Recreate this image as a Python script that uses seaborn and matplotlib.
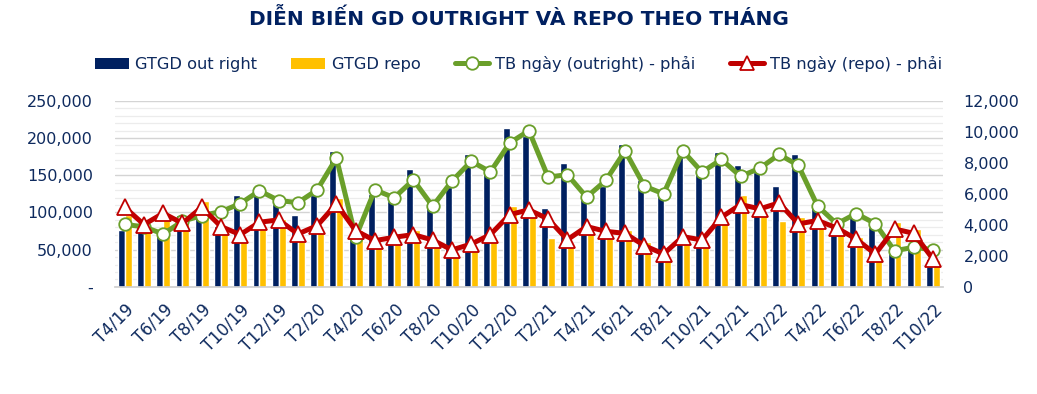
import numpy as np
import pandas as pd
import matplotlib
matplotlib.use("Agg")
import matplotlib.pyplot as plt
import seaborn as sns
from matplotlib.patches import Patch
from matplotlib.lines import Line2D
from matplotlib.ticker import FuncFormatter, MultipleLocator

# du lieu theo thang (T4/19 -> T10/22)
months = ["T4/19", "T5/19", "T6/19", "T7/19", "T8/19", "T9/19", "T10/19", "T11/19", "T12/19",
          "T1/20", "T2/20", "T3/20", "T4/20", "T5/20", "T6/20", "T7/20", "T8/20", "T9/20",
          "T10/20", "T11/20", "T12/20", "T1/21", "T2/21", "T3/21", "T4/21", "T5/21", "T6/21",
          "T7/21", "T8/21", "T9/21", "T10/21", "T11/21", "T12/21", "T1/22", "T2/22", "T3/22",
          "T4/22", "T5/22", "T6/22", "T7/22", "T8/22", "T9/22", "T10/22"]

gtgd_outright = [76000, 78000, 73000, 97000, 94000, 82000, 124000, 123000, 112000,
                 97000, 123000, 183000, 70000, 125000, 116000, 159000, 109000, 134000,
                 178000, 163000, 213000, 203000, 106000, 166000, 118000, 136000, 192000,
                 143000, 124000, 174000, 154000, 181000, 164000, 154000, 136000, 179000,
                 107000, 82000, 96000, 80000, 53000, 51000, 38000]

gtgd_repo = [96000, 82000, 90000, 91000, 115000, 73000, 66000, 78000, 91000,
             66000, 78000, 120000, 76000, 55000, 57000, 76000, 55000, 43000,
             50000, 62000, 108000, 94000, 66000, 59000, 79000, 67000, 77000,
             60000, 38000, 60000, 60000, 92000, 123000, 95000, 88000, 94000,
             83000, 72000, 67000, 41000, 87000, 78000, 36000]

tb_outright = [4030, 3870, 3410, 4230, 4600, 4850, 5370, 6200, 5570,
               5430, 6260, 8310, 3200, 6260, 5750, 6900, 5200, 6820,
               8100, 7420, 9280, 10080, 7080, 7240, 5790, 6870, 8770,
               6500, 6000, 8770, 7400, 8230, 7130, 7650, 8540, 7840,
               5220, 4060, 4730, 4080, 2330, 2550, 2390]

tb_repo = [5130, 4020, 4750, 4100, 5130, 3890, 3370, 4170, 4320,
           3410, 3950, 5350, 3630, 2980, 3200, 3370, 3020, 2380,
           2760, 3370, 4660, 4970, 4380, 3040, 3890, 3580, 3450,
           2660, 2120, 3240, 3020, 4490, 5310, 5030, 5420, 4060,
           4280, 3800, 3090, 2120, 3740, 3450, 1790]

NAVY = "#002060"
YELLOW = "#FFC000"
GREEN = "#6A9F2A"
RED = "#C00000"
TXT = "#0E2A5E"

sns.set_theme(style="white")
plt.rcParams["font.family"] = ["DejaVu Sans"]

df = pd.DataFrame({"month": months, "GTGD out right": gtgd_outright, "GTGD repo": gtgd_repo})
df_long = df.melt(id_vars="month", var_name="series", value_name="value")

fig = plt.figure(figsize=(10.37, 3.94), dpi=100)
ax = fig.add_axes([0.111, 0.272, 0.798, 0.472])

sns.barplot(data=df_long, x="month", y="value", hue="series", order=months,
            palette=[NAVY, YELLOW], width=0.72, saturation=1, legend=False, ax=ax)
ax.set_ylim(0, 250000)
ax.set_xlim(-0.5, len(months) - 0.5)

# luoi ngang
ax.yaxis.set_major_locator(MultipleLocator(50000))
ax.yaxis.set_minor_locator(MultipleLocator(10000))
ax.grid(axis="y", which="major", color="#d4d4d4", lw=1.0)
ax.grid(axis="y", which="minor", color="#ececec", lw=0.9)
ax.set_axisbelow(True)
ax.yaxis.set_major_formatter(FuncFormatter(lambda v, p: "-" if v == 0 else f"{int(v):,}"))
ax.tick_params(axis="y", which="both", length=0, labelsize=11.5, labelcolor=TXT, pad=16)

x = np.arange(len(months))
ax.set_xticks(x[::2])
ax.set_xticklabels(months[::2], rotation=45, ha="right", rotation_mode="anchor",
                   fontsize=12, color=TXT)
ax.set_xticks(x - 0.5, minor=True)
ax.tick_params(axis="x", which="major", length=0, pad=10)
ax.tick_params(axis="x", which="minor", length=5, color="#cfcfcf", width=1)
ax.set_xlabel("")
ax.set_ylabel("")
for s in ["top", "right", "left"]:
    ax.spines[s].set_visible(False)
ax.spines["bottom"].set_color("#cfcfcf")

ax2 = ax.twinx()
sns.lineplot(x=x, y=tb_outright, ax=ax2, color=GREEN, lw=3.6, marker="o", markersize=9,
             markerfacecolor="white", markeredgecolor=GREEN, markeredgewidth=1.3, zorder=3)
sns.lineplot(x=x, y=tb_repo, ax=ax2, color=RED, lw=3.6, marker="^", markersize=11,
             markerfacecolor="white", markeredgecolor=RED, markeredgewidth=1.3, zorder=4)
ax2.set_ylim(0, 12000)
ax2.yaxis.set_major_locator(MultipleLocator(2000))
ax2.yaxis.set_major_formatter(FuncFormatter(lambda v, p: f"{int(v):,}"))
ax2.tick_params(axis="y", length=0, labelsize=11.5, labelcolor=TXT, pad=15)
for s in ax2.spines.values():
    s.set_visible(False)
ax2.grid(False)
ax2.set_xlim(-0.5, len(months) - 0.5)

fig.text(0.5, 0.952, "DIỄN BIẾN GD OUTRIGHT VÀ REPO THEO THÁNG", ha="center", va="center",
         fontsize=14.5, fontweight="bold", color=NAVY)

handles = [
    Patch(facecolor=NAVY, edgecolor="none"),
    Patch(facecolor=YELLOW, edgecolor="none"),
    Line2D([], [], color=GREEN, lw=3.6, marker="o", markersize=9, markerfacecolor="white",
           markeredgecolor=GREEN, markeredgewidth=1.3),
    Line2D([], [], color=RED, lw=3.6, marker="^", markersize=10, markerfacecolor="white",
           markeredgecolor=RED, markeredgewidth=1.3),
]
labels = ["GTGD out right", "GTGD repo", "TB ngày (outright) - phải", "TB ngày (repo) - phải"]
leg = fig.legend(handles, labels, loc="center", bbox_to_anchor=(0.5, 0.838), ncol=4,
                 frameon=False, fontsize=11.7, handlelength=2.1, handleheight=0.65,
                 columnspacing=2.1, handletextpad=0.4)
for t in leg.get_texts():
    t.set_color(TXT)

fig.savefig("out.png", dpi=100)
